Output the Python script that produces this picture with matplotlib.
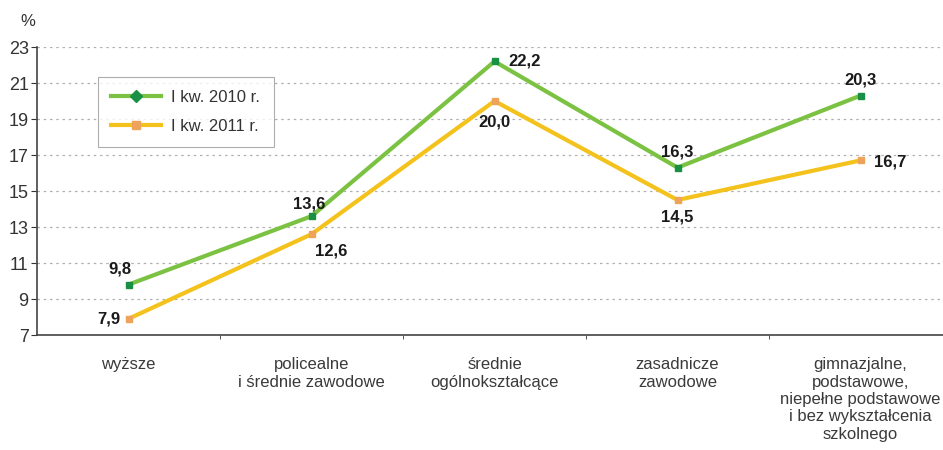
import numpy as np
import matplotlib.pyplot as plt

categories = ["wyższe",
              "policealne\ni średnie zawodowe",
              "średnie\nogólnokształcące",
              "zasadnicze\nzawodowe",
              "gimnazjalne,\npodstawowe,\nniepełne podstawowe\ni bez wykształcenia\nszkolnego"]
v2010 = [9.8, 13.6, 22.2, 16.3, 20.3]
v2011 = [7.9, 12.6, 20.0, 14.5, 16.7]
labels = ["I kw. 2010 r.", "I kw. 2011 r."]
yticks = [7, 9, 11, 13, 15, 17, 19, 21, 23]

plt.rcParams['font.family'] = ['Liberation Sans', 'DejaVu Sans']

fig = plt.figure(figsize=(9.43, 4.5), dpi=100)
ax = fig.add_axes([37 / 943, 1 - 335 / 450, 1 - 37 / 943, (335 - 47) / 450])

x = np.arange(len(categories))
ax.plot(x, v2010, color='#7cc242', lw=3, marker='s', ms=4, mfc='#1a9044', mec='#1a9044', zorder=3)
ax.plot(x, v2011, color='#f4c21c', lw=3, marker='s', ms=4, mfc='#eda35a', mec='#eda35a', zorder=2)

# legend proxies (diamond for 2010)
l1, = ax.plot([], [], color='#7cc242', lw=3, marker='D', ms=6, mfc='#1a9044', mec='#1a9044')
l2, = ax.plot([], [], color='#f4c21c', lw=3, marker='s', ms=6, mfc='#eda35a', mec='#eda35a')
leg = ax.legend([l1, l2], labels, loc='upper left', bbox_to_anchor=(61 / 906, 0.896),
                borderaxespad=0, fontsize=12, frameon=True, fancybox=False, handlelength=3.0,
                handletextpad=0.6, labelspacing=0.8, borderpad=0.8, edgecolor='#999999')
leg.get_frame().set_linewidth(0.8)
for t in leg.get_texts():
    t.set_color('#333333')

fs = 12
off10 = [(-6, 11, 'center'), (-2, 9, 'center'), (10, 0, 'left'), (0, 11, 'center'), (0, 11, 'center')]
off11 = [(-6, 0, 'right'), (14, -12, 'center'), (0, -15, 'center'), (0, -12, 'center'), (10, -1, 'left')]
for i in range(len(categories)):
    dx, dy, ha = off10[i]
    ax.annotate(f"{v2010[i]:.1f}".replace('.', ','), (x[i], v2010[i]), xytext=(dx, dy),
                textcoords='offset points', ha=ha, va='center', fontsize=fs, fontweight='bold',
                color='#1a1a1a')
    dx, dy, ha = off11[i]
    ax.annotate(f"{v2011[i]:.1f}".replace('.', ','), (x[i], v2011[i]), xytext=(dx, dy),
                textcoords='offset points', ha=ha, va='center', fontsize=fs, fontweight='bold',
                color='#1a1a1a')

ax.set_xlim(-0.5, 4.5 - 9 / 183)
ax.set_ylim(7, 23)
ax.set_yticks(yticks)
ax.set_yticklabels([str(t) for t in yticks], fontsize=13, color='#333333')
ax.set_xticks(x)
ax.set_xticklabels(categories, fontsize=12, color='#3a3a3a', linespacing=1.2)
ax.tick_params(axis='x', length=0, pad=16)
ax.set_xticks(np.arange(0.5, 4.5, 1), minor=True)
ax.tick_params(axis='x', which='minor', length=3, direction='out', color='#333333')
ax.tick_params(axis='y', length=4, direction='out', color='#333333', pad=2)
ax.grid(axis='y', ls=(0, (2, 3)), color='#b0b0b0', lw=0.9)
ax.set_axisbelow(True)
for s in ['top', 'right']:
    ax.spines[s].set_visible(False)
for s in ['left', 'bottom']:
    ax.spines[s].set_color('#444444')
    ax.spines[s].set_linewidth(1.2)

fig.text(20 / 943, 1 - 22 / 450, "%", fontsize=12, color='#333333', va='center')

fig.savefig('out.png', dpi=100)
